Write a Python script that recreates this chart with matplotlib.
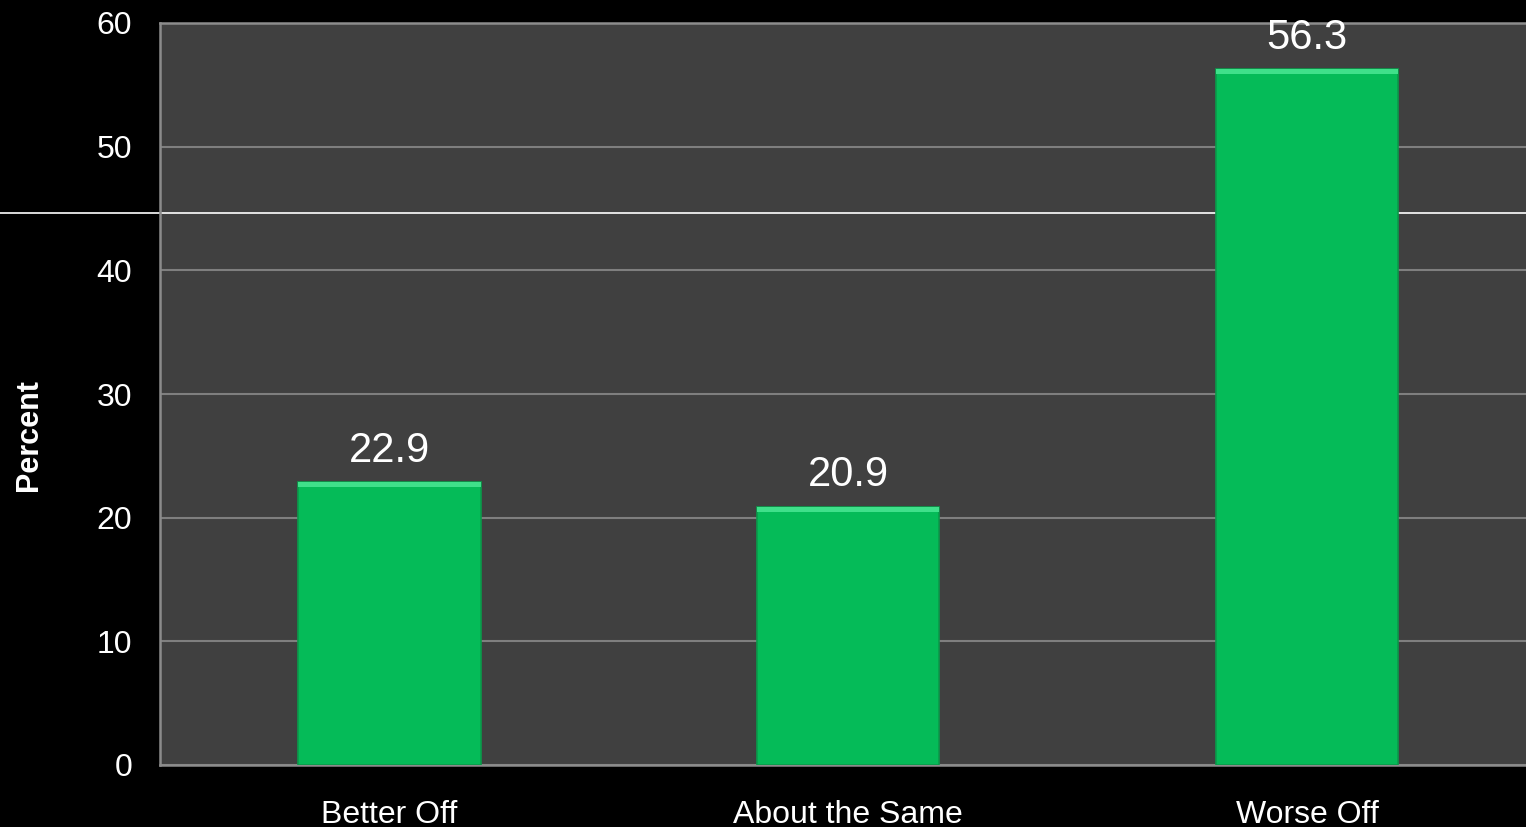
import numpy as np
import matplotlib
matplotlib.use("Agg")
import matplotlib.pyplot as plt

# data
categories = ["Better Off", "About the Same", "Worse Off"]
percent = [22.9, 20.9, 56.3]
yticks = [0, 10, 20, 30, 40, 50, 60]
stray_line_y = 44.6   # the white line running across the original slide

plt.rcParams['font.family'] = ['Liberation Sans', 'DejaVu Sans']

fig = plt.figure(figsize=(15.26, 8.27), dpi=100, facecolor='black')
ax = fig.add_axes([160/1526, 62/827, 1366/1526, 742/827])
ax.set_facecolor('#404040')

x = np.arange(len(categories))
bars = ax.bar(x, percent, width=0.397, color='#05BB58', edgecolor='#0b9a4a',
              linewidth=1.2, zorder=3)

# light bevel strip along the top of each bar
for b in bars:
    ax.bar(b.get_x() + b.get_width()/2, 0.45, bottom=b.get_height() - 0.45,
           width=b.get_width(), color='#3fe08a', linewidth=0, zorder=4)

for xi, v in zip(x, percent):
    ax.annotate(f"{v}", (xi, v), xytext=(0, 8), textcoords='offset points',
                ha='center', va='bottom', color='white', fontsize=30)

ax.set_xlim(-0.5, 2.477)
ax.set_ylim(0, 60)
ax.set_yticks(yticks)
ax.set_xticks(x)
ax.set_xticklabels(categories)
ax.tick_params(axis='both', length=0, colors='white', labelsize=23)
ax.tick_params(axis='y', pad=20)
ax.tick_params(axis='x', pad=25)

ax.yaxis.grid(True, color='#7f7f7f', linewidth=1.5, zorder=1)
ax.set_axisbelow(True)

for side in ['left', 'bottom', 'top']:
    ax.spines[side].set_color('#8c8c8c')
    ax.spines[side].set_linewidth(1.8)
ax.spines['right'].set_visible(False)

ax.axhline(stray_line_y, xmin=-160/1366, xmax=1, color='white', linewidth=1.2,
           clip_on=False, zorder=2)

fig.text(29/1526, 1 - 435/827, 'Percent', rotation=90, color='white',
         fontsize=22, fontweight='bold', ha='center', va='center')

fig.savefig('out.png', dpi=100, facecolor='black')
